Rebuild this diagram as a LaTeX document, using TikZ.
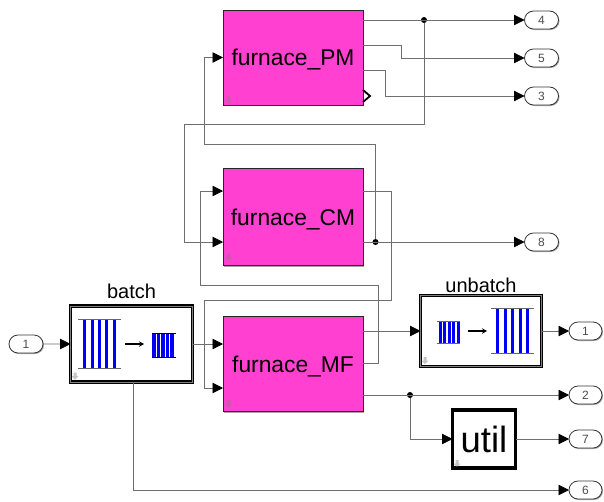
\documentclass[tikz,border=0pt]{standalone}
\usepackage{fontspec}
\setmainfont{Liberation Sans}
\usepackage{xcolor}
\usetikzlibrary{arrows.meta,positioning,shapes.misc,shadows}
\definecolor{blockpink}{RGB}{255,64,208}
\definecolor{wiregray}{RGB}{110,110,110}
\definecolor{barblue}{RGB}{0,0,245}

\begin{document}
\begin{tikzpicture}[
      x=1pt, y=-1pt,
      every node/.style={inner sep=2pt, outer sep=0pt},
      shade/.style={drop shadow={shadow xshift=1pt, shadow yshift=-1pt, opacity=0.35, fill=black}},
      furnace/.style={draw=black!85, line width=1pt, fill=blockpink, minimum width=140pt,
                      minimum height=95pt, text depth=0pt, font=\fontsize{22.8}{25}\selectfont, shade},
      framed/.style={draw=black, fill=white, line width=1.2pt, double=black!50, double distance=1pt, shade},
      port/.style={rounded rectangle, draw=black!80, line width=0.8pt, fill=white, minimum width=38pt,
                   minimum height=18pt, font=\fontsize{12}{13}\selectfont, text=black!70, shade},
      tag/.style={font=\fontsize{20}{22}\selectfont, inner sep=0pt},
      wire/.style={draw=wiregray, line width=0.8pt},
      arr/.style={wire, -{Triangle[length=10.5pt, width=10.5pt, color=black]}},
      dot/.style={circle, fill=black, minimum size=6pt, inner sep=0pt},
      bar/.style={draw=barblue, line width=3pt},
      rail/.style={draw=black!60, line width=0.8pt},
      small arr/.style={draw=black, line width=1.2pt, -{Stealth[length=5pt, width=5.5pt]}},
      hint/.style={fill=gray, opacity=0.45}
    ]
    \useasboundingbox (0,0) rectangle (604,501);

    % Furnace column
    \node[furnace] (pm) at (293,57.5) {furnace\_PM};
    \node[furnace, minimum height=97pt] (cm) [below=63.5pt of pm] {furnace\_CM};
    \node[furnace] (mf) [below=51pt of cm] {furnace\_MF};

    % Side blocks
    \node[framed, minimum width=122pt, minimum height=76pt] (batch) at (131.5,344) {};
    \node[tag, above=7pt of batch] {batch};
    \node[framed, minimum width=121pt, minimum height=71pt] (unbatch) at (481,331) {};
    \node[tag, above=2.5pt of unbatch] {unbatch};
    \node[framed, double=black, minimum width=63pt, minimum height=58pt, font=\fontsize{36.5}{38}\selectfont] (util) at (484,439) {util};

    % Ports
    \node[port] (ip1) at (26,344) {1};
    \node[port] (op4) at (541.5,20) {4};
    \node[port] (op5) [below=20pt of op4] {5};
    \node[port] (op3) [below=20pt of op5] {3};
    \node[port] (op8) at (541.5,242) {8};
    \node[port, minimum width=37pt] (op1) at (585.5,331) {1};
    \node[port, minimum width=37pt] (op2) at (585.5,395) {2};
    \node[port, minimum width=37pt] (op7) at (585.5,439) {7};
    \node[port, minimum width=37pt] (op6) at (585.5,490) {6};

    % Junctions and block inputs
    \node[dot] (j4) at (424,20) {};
    \node[dot] (j8) at (375.5,242) {};
    \node[dot] (j2) at (410,395) {};
    \coordinate (cma) at (cm.west |- 0,191);
    \coordinate (cmb) at (cm.west |- op8);
    \coordinate (mfa) at (mf.west |- batch);
    \coordinate (mfb) at (mf.west |- 0,388);

    % PM wires
    \draw[arr] (pm.east |- op4) -- (op4);
    \draw[arr] (pm.east |- 0,45) -| (401,58) -- (op5);
    \draw[arr] (pm.east |- 0,70.5) -| (385.5,96) -- (op3);
    \draw[arr] (j4) |- (184,124) |- (cmb);
    \draw[arr] (j8) |- (204,144.5) |- (pm.west);
    \draw[line width=1.8pt] (pm.east |- 0,90) -- (370,96) -- (pm.east |- 0,102);

    % CM wires
    \draw[arr] (cm.east |- op8) -- (op8);
    \draw[arr] (cm.east |- 0,191) -| (391,300.5) -| (204,388) -- (mfb);
    \draw[arr] (mf.east |- 0,363) -| (378,285) -| (200,191) -- (cma);

    % Batch and MF wires
    \draw[arr] (ip1) -- (batch.west);
    \draw[arr] (batch.east) -- (mfa);
    \draw[arr] ([xshift=2pt]batch.south) |- (op6);
    \draw[arr] (mf.east |- unbatch) -- (unbatch.west);
    \draw[arr] (unbatch.east) -- (op1);
    \draw[arr] (mf.east |- op2) -- (op2);
    \draw[arr] (j2) |- (util.west);
    \draw[arr] (util.east) -- (op7);

    % Icons
    \foreach \bx in {84.3,92,99.2,106.7,114.3} \draw[bar] (\bx,319.5) -- (\bx,368);
    \draw[rail] (78,319.5) -- (121,319.5) (78,368) -- (121,368);
    \foreach \bx in {154,158.5,163,167.5,172} \draw[bar, line width=3.5pt] (\bx,333.5) -- (\bx,357);
    \draw[draw=black, line width=0.8pt] (152,333.5) -- (176,333.5) (152,357) -- (176,357);
    \draw[small arr] (125,344) -- (144,344);
    \foreach \bx in {440,444.5,449,453.5,458} \draw[bar, line width=3pt] (\bx,321.5) -- (\bx,343);
    \draw[rail] (436.5,321.5) -- (460,321.5) (436.5,343) -- (460,343);
    \draw[small arr] (468,331) -- (487,331);
    \foreach \bx in {497,505,512.7,520,527.7} \draw[bar] (\bx,308.5) -- (\bx,353.5);
    \draw[rail] (491,308.5) -- (533.5,308.5) (491,353.5) -- (533.5,353.5);

    % Small down arrows in the block corners
    \foreach \bx/\by in {228.5/96,228.5/253.5,228.5/400,75/372.5,425/357,457/460}
      \fill[hint] (\bx-1.5,\by) -- (\bx+1.5,\by) -- (\bx+1.5,\by+3.5) -- (\bx+3.5,\by+3.5)
        -- (\bx,\by+7) -- (\bx-3.5,\by+3.5) -- (\bx-1.5,\by+3.5) -- cycle;
  \end{tikzpicture}
\end{document}
